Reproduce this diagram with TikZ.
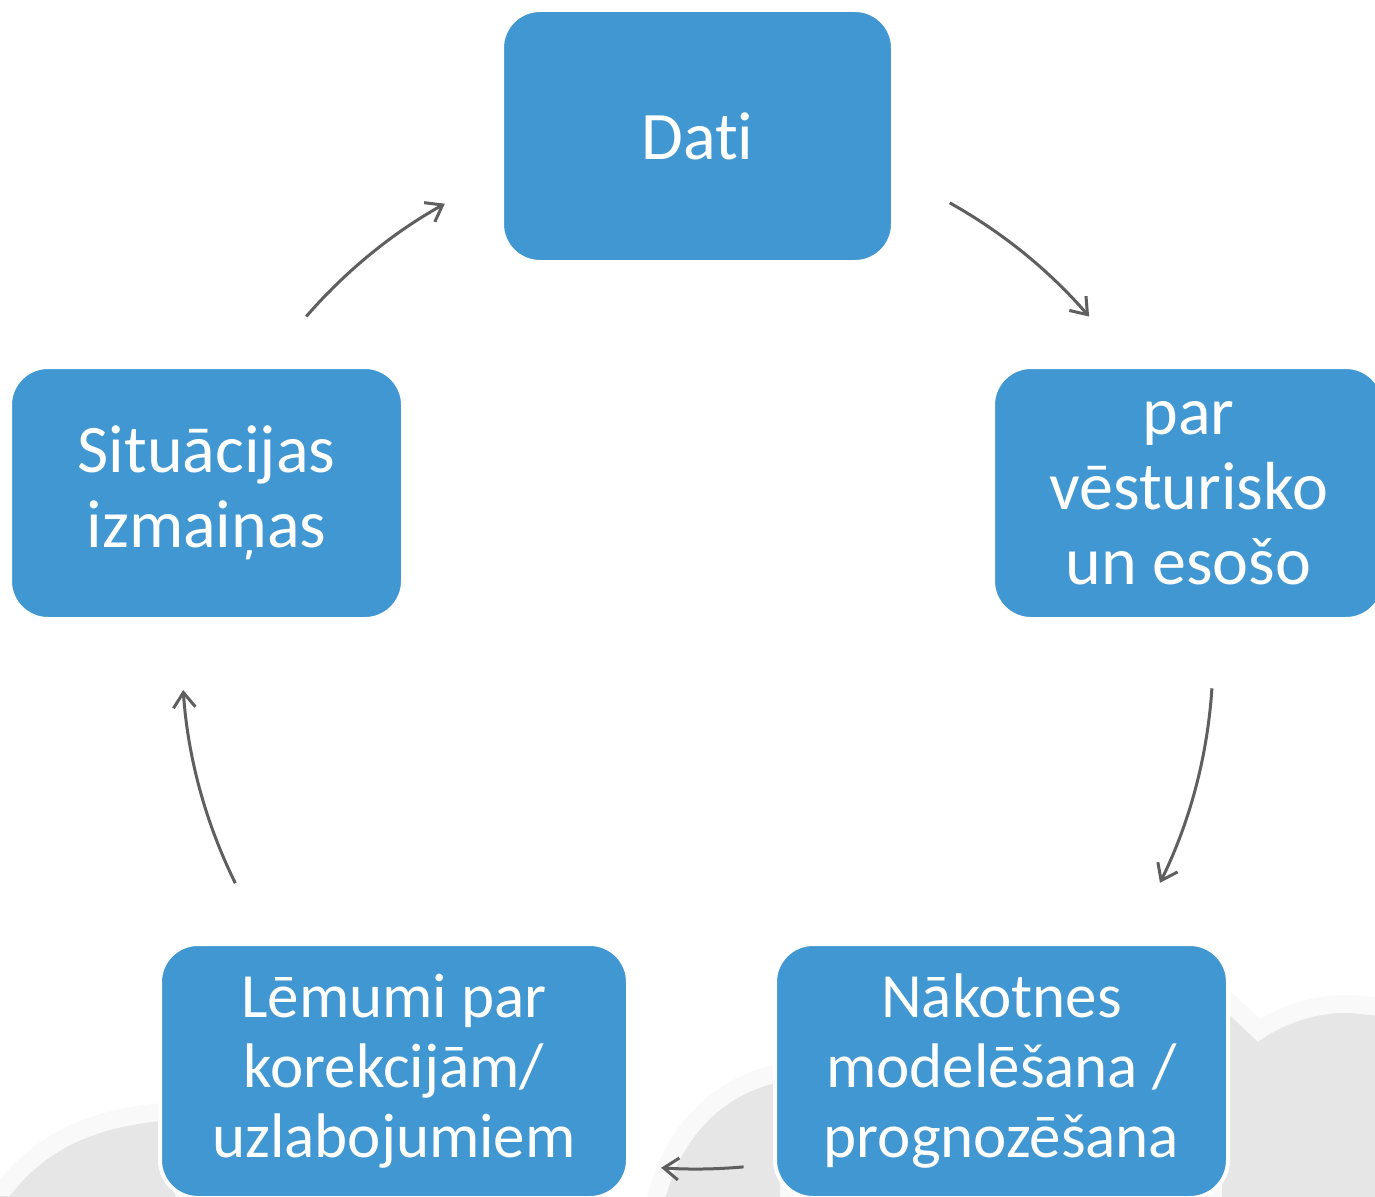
\documentclass[tikz,border=0pt]{standalone}
\usepackage{fontspec}
\setmainfont{Carlito}[Ligatures={NoCommon}]
\usetikzlibrary{arrows.meta}
\definecolor{boxblue}{HTML}{4197D1}
\definecolor{arrowgrey}{HTML}{5F5F5F}
\definecolor{cloudgrey}{HTML}{E6E6E6}
\definecolor{halogrey}{HTML}{F9F9F9}
\tikzset{
  box/.style={rectangle, rounded corners=38pt, fill=boxblue, draw=white, line width=4pt,
    text=white, align=center, inner sep=0pt},
  bigtxt/.style={font=\fontsize{68}{75}\selectfont},
  smalltxt/.style={font=\fontsize{63}{70}\selectfont},
  conn/.style={draw=arrowgrey, line width=3pt, -{Straight Barb[length=15pt,width=22pt,line width=3pt]}},
  cloud/.style={fill=cloudgrey},
  halo/.style={draw=halogrey, line width=36pt, line join=round}
}
\begin{document}
\begin{tikzpicture}[x=1pt,y=1pt]
\useasboundingbox (0,0) rectangle (1375,-1196);
\clip (0,0) rectangle (1375,-1196);
\fill[white] (0,0) rectangle (1375,-1196);
% background clouds
\path[halo] (-30,-1196) -- (10,-1196) .. controls (45,-1150) and (95,-1125) .. (175,-1120) -- (175,-1240) -- (-30,-1240) -- cycle;
\path[halo] (665,-1200) .. controls (680,-1140) and (720,-1095) .. (780,-1082) -- (780,-1240) -- (665,-1240) -- cycle;
\path[halo] (1222,-1008) -- (1258,-1042) .. controls (1285,-1022) and (1320,-1012) .. (1350,-1013) -- (1400,-1018) -- (1400,-1240) -- (1222,-1240) -- cycle;
\fill[cloud] (-30,-1196) -- (10,-1196) .. controls (45,-1150) and (95,-1125) .. (175,-1120) -- (175,-1240) -- (-30,-1240) -- cycle;
\fill[cloud] (665,-1200) .. controls (680,-1140) and (720,-1095) .. (780,-1082) -- (780,-1240) -- (665,-1240) -- cycle;
\fill[cloud] (1222,-1008) -- (1258,-1042) .. controls (1285,-1022) and (1320,-1012) .. (1350,-1013) -- (1400,-1018) -- (1400,-1240) -- (1222,-1240) -- cycle;
% boxes
\node[box, bigtxt, minimum width=391pt, minimum height=252pt] (dati) at (697.5,-136) {Dati};
\node[box, bigtxt, minimum width=391pt, minimum height=252pt] (vest) at (1188.5,-493) {par\\vēsturisko\\un esošo};
\node[box, smalltxt, minimum width=453pt, minimum height=254pt] (nak) at (1001.5,-1071) {Nākotnes\\modelēšana /\\prognozēšana};
\node[box, smalltxt, minimum width=468pt, minimum height=254pt] (lem) at (394,-1071) {Lēmumi par\\korekcijām/\\uzlabojumiem};
\node[box, bigtxt, minimum width=393pt, minimum height=252pt] (sit) at (206.5,-493) {Situācijas\\izmaiņas};
% cycle arrows (arcs around a common centre)
\coordinate (ctr) at (697,-655);
\draw[conn] (ctr) ++(60.8:518pt) arc[start angle=60.8, end angle=40.8, radius=518pt];
\draw[conn] (ctr) ++(-3.7:516pt) arc[start angle=-3.7, end angle=-26.2, radius=516pt];
\draw[conn] (ctr) ++(-84.8:514pt) arc[start angle=-84.8, end angle=-94.0, radius=514pt];
\draw[conn] (ctr) ++(206.3:515pt) arc[start angle=206.3, end angle=183.9, radius=515pt];
\draw[conn] (ctr) ++(139.1:517pt) arc[start angle=139.1, end angle=119.2, radius=517pt];
\end{tikzpicture}
\end{document}
